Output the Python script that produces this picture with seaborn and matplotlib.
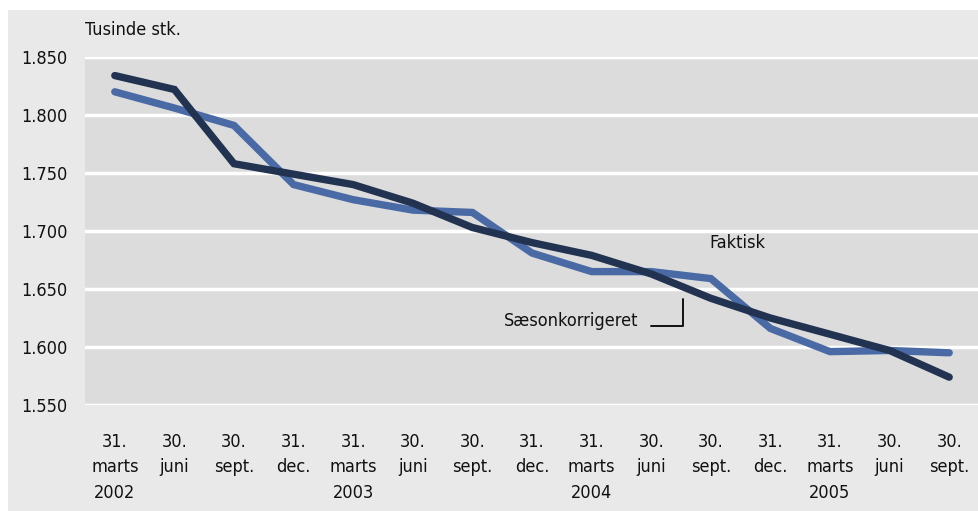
import pandas as pd
import seaborn as sns
import matplotlib.pyplot as plt
from matplotlib.patches import Rectangle
from matplotlib.ticker import FuncFormatter

# quarter labels (day, month, year shown only at marts)
days = ['31.', '30.', '30.', '31.'] * 3 + ['31.', '30.', '30.']
months = ['marts', 'juni', 'sept.', 'dec.'] * 3 + ['marts', 'juni', 'sept.']
years = ['2002', '', '', '', '2003', '', '', '', '2004', '', '', '', '2005', '', '']

faktisk = [1820, 1806, 1791, 1740, 1727, 1718, 1716, 1681, 1665,
           1665, 1659, 1616, 1596, 1597, 1595]
saeson = [1834, 1822, 1758, 1749, 1740, 1724, 1703, 1690, 1679,
          1663, 1642, 1625, 1611, 1597, 1574]

yticks = [1550, 1600, 1650, 1700, 1750, 1800, 1850]

sns.set_theme(style='white')
plt.rcParams['font.family'] = ['DejaVu Sans']
plt.rcParams['font.stretch'] = 'condensed'
plt.rcParams['font.size'] = 13

n = len(faktisk)
d = pd.DataFrame({
    'x': list(range(n)) * 2,
    'y': faktisk + saeson,
    'serie': ['Faktisk'] * n + ['Sæsonkorrigeret'] * n,
})

fig = plt.figure(figsize=(9.79, 5.11), dpi=100, facecolor='white')
fig.patches.append(Rectangle((8 / 979, 0), 1, 1 - 10 / 511, transform=fig.transFigure,
                             facecolor='#e9e9e9', edgecolor='none', zorder=-1))
ax = fig.add_axes([85 / 979, 106 / 511, 894 / 979, 348 / 511])
ax.set_facecolor('#dcdcdc')

sns.lineplot(data=d, x='x', y='y', hue='serie', ax=ax, legend=False,
             palette={'Faktisk': '#4a6aa6', 'Sæsonkorrigeret': '#223352'},
             linewidth=5.3, solid_capstyle='round', solid_joinstyle='miter')

ax.set_xlim(-0.5, n - 0.5)
ax.set_ylim(1550, 1850)
ax.set_yticks(yticks)
ax.yaxis.set_major_formatter(FuncFormatter(lambda v, p: f'{int(v):,}'.replace(',', '.')))
ax.set_xticks(range(n))
ax.set_xticklabels([f'{a}\n{b}\n{c}' if c else f'{a}\n{b}'
                    for a, b, c in zip(days, months, years)],
                   linespacing=1.55, va='top')
ax.tick_params(axis='x', length=0, pad=20, labelsize=13, labelcolor='#111111')
ax.tick_params(axis='y', length=0, pad=12.5, labelsize=13, labelcolor='#111111')
ax.set_xlabel('')
ax.set_ylabel('')
for s in ax.spines.values():
    s.set_visible(False)
ax.grid(axis='y', color='white', linewidth=2.5)
ax.set_axisbelow(True)

ax.text(9.98, 1690, 'Faktisk', fontsize=13, va='center', ha='left', color='#111111')
ax.text(6.52, 1622, 'Sæsonkorrigeret', fontsize=13, va='center', ha='left', color='#111111')
ax.plot([8.99, 9.53, 9.53], [1618, 1618, 1641], color='#111111', linewidth=1.4)

fig.text(85 / 979, 1 - 30 / 511, 'Tusinde stk.', fontsize=13, va='center', ha='left',
         color='#111111')

fig.savefig('out.png', dpi=100, facecolor=fig.get_facecolor())
